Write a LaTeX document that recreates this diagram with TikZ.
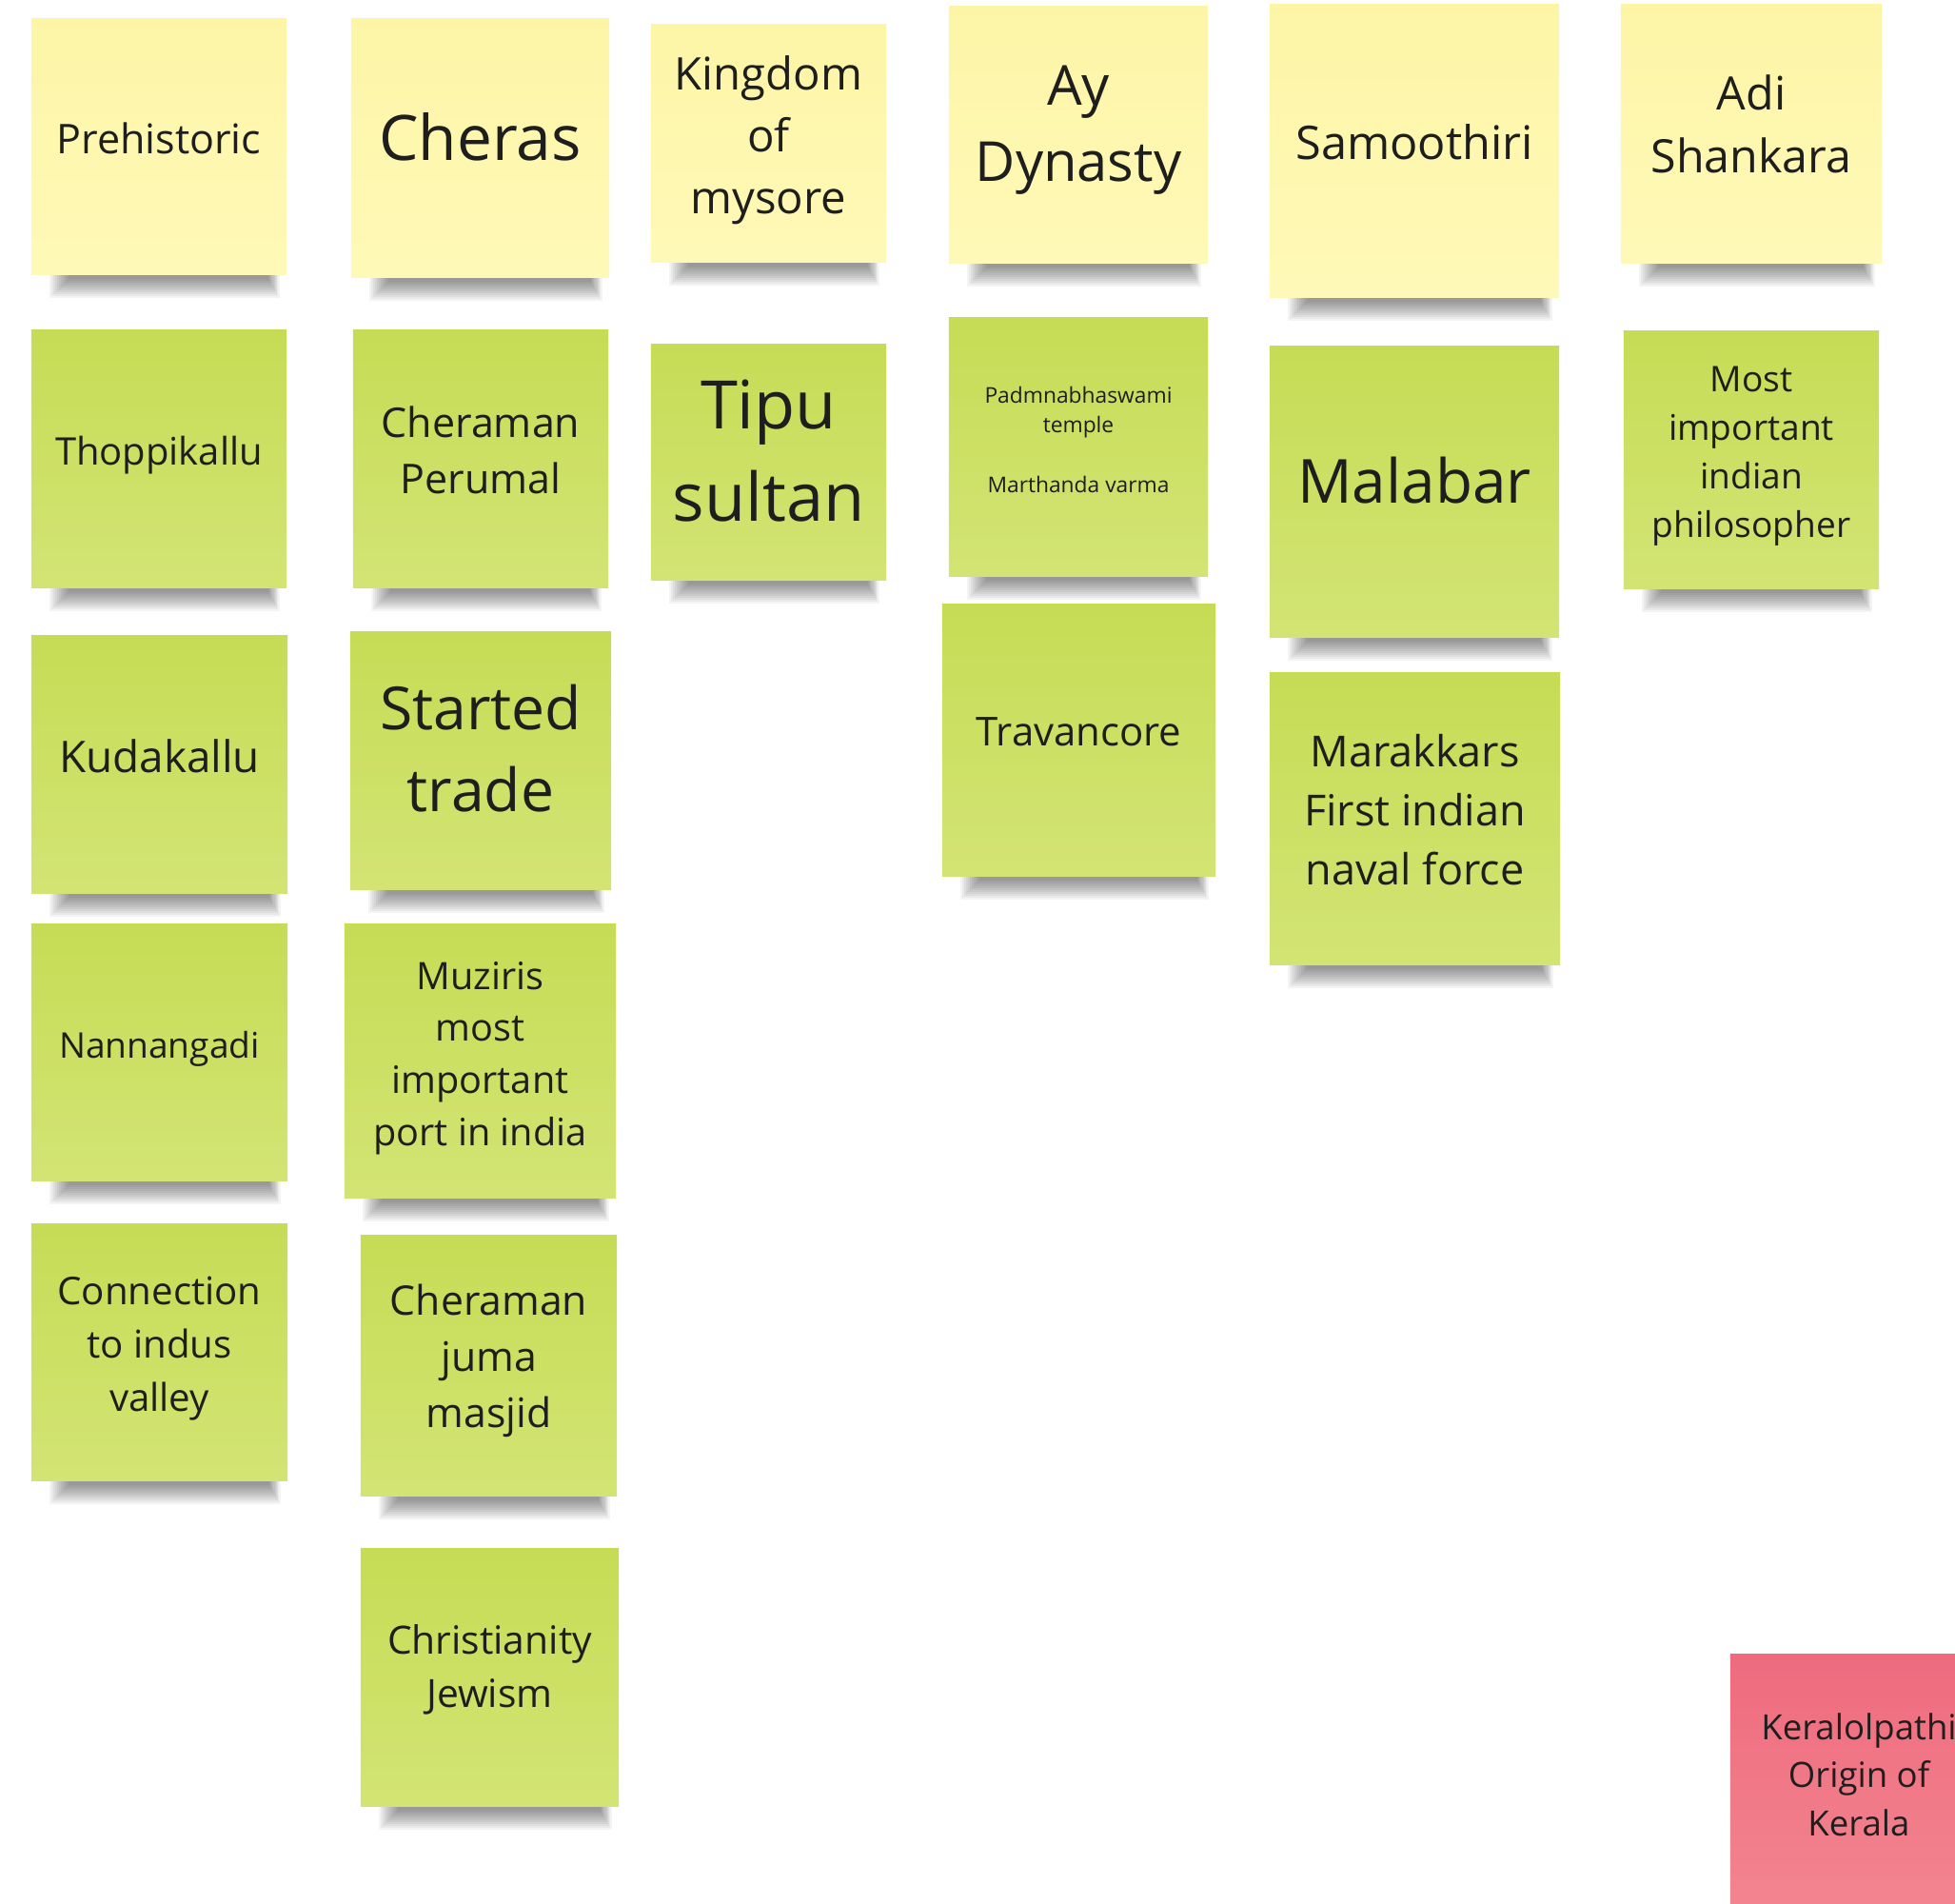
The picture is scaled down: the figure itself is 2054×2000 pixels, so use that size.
\documentclass[tikz,border=0pt]{standalone}
\usepackage{fontspec}
\setmainfont{Open Sans}
\usetikzlibrary{calc}
\usetikzlibrary{backgrounds}

\definecolor{yellowtop}{HTML}{FDF5A6}
\definecolor{yellowbot}{HTML}{FFF9B8}
\definecolor{greentop}{HTML}{C6DC55}
\definecolor{greenbot}{HTML}{D3E474}
\definecolor{pinktop}{HTML}{EE6B7E}
\definecolor{pinkbot}{HTML}{F38590}
\definecolor{stickyink}{HTML}{1E1E1E}
\newcommand{\stickyfont}[1]{\fontsize{#1pt}{#1pt}\selectfont\baselineskip=1.38\baselineskip}

\tikzset{
  sticky/.style={rectangle,inner sep=0pt},
  yellowsticky/.style={sticky,top color=yellowtop,bottom color=yellowbot},
  greensticky/.style={sticky,top color=greentop,bottom color=greenbot},
  pinksticky/.style={sticky,top color=pinktop,bottom color=pinkbot},
  notesize/.style 2 args={minimum width=#1*0.35566pt,minimum height=#2*0.35566pt},
  stickytext/.style={align=center,text=stickyink,yshift=3.2pt,font=\stickyfont{#1}}
}

\begin{document}
\begin{tikzpicture}[x=0.0125cm,y=-0.0125cm]
\useasboundingbox (0,0) rectangle (2054,2000);
\clip (0,0) rectangle (2054,2000);
%first row
\path (167,154) node(pre)[yellowsticky,notesize={268}{268},label={[stickytext=15.3]center:Prehistoric}]{}
(504.5,155.5) node(cheras)[yellowsticky,notesize={271}{271},label={[stickytext=23.4,yshift=1pt]center:Cheras}]{}
(807.5,150.5) node(mysore)[yellowsticky,notesize={247}{249},label={[stickytext=16.8,yshift=-2.1pt]center:Kingdom\\ of\\ mysore}]{}
(1133,141.5) node(ay)[yellowsticky,notesize={272}{269},label={[stickytext=20.6,yshift=-1.4pt]center:Ay\\ Dynasty}]{}
(1486,158.5) node(samoothiri)[yellowsticky,notesize={304}{307},label={[stickytext=17.3]center:Samoothiri}]{}
(1840,140.5) node(adi)[yellowsticky,notesize={274}{271},label={[stickytext=17.2,yshift=0.4pt]center:Adi\\ Shankara}]{};
%green notes
\path (167,482) node(thoppi)[greensticky,notesize={268}{270},label={[stickytext=14.2,yshift=-1.8pt]center:Thoppikallu}]{}
(505,482) node(perumal)[greensticky,notesize={268}{270},label={[stickytext=15.3]center:Cheraman\\ Perumal}]{}
(807.5,485.5) node(tipu)[greensticky,notesize={247}{247},label={[stickytext=25,yshift=0.9pt]center:Tipu\\ sultan}]{}
(1133,469.5) node(padma)[greensticky,notesize={272}{271},label={[stickytext=8.1,yshift=-0.4pt]center:Padmnabhaswami\\ temple\\ \mbox{}\\ Marthanda varma}]{}
(1486,516.5) node(malabar)[greensticky,notesize={304}{305},label={[stickytext=22.7,yshift=0.9pt]center:Malabar}]{}
(1840,483) node(philo)[greensticky,notesize={268}{270},label={[stickytext=13.2,yshift=-1.8pt]center:Most\\ important\\ indian\\ philosopher}]{}
(167.5,803) node(kuda)[greensticky,notesize={269}{270},label={[stickytext=16.3]center:Kudakallu}]{}
(505,799) node(trade)[greensticky,notesize={274}{270},label={[stickytext=22.2,yshift=1.4pt]center:Started\\ trade}]{}
(1133.5,777.5) node(travan)[greensticky,notesize={287}{285},label={[stickytext=14.9]center:Travancore}]{}
(1486.5,860) node(marak)[greensticky,notesize={305}{306},label={[stickytext=16]center:Marakkars\\ First indian\\ naval force}]{}
(167.5,1105.5) node(nann)[greensticky,notesize={269}{269},label={[stickytext=13.2,yshift=-1.8pt]center:Nannangadi}]{}
(504.5,1114.5) node(muziris)[greensticky,notesize={285}{287},label={[stickytext=14.1,yshift=-2.1pt]center:Muziris\\ most\\ important\\ port in india}]{}
(167.5,1420.5) node(conn)[greensticky,notesize={269}{269},label={[stickytext=14.3,yshift=-1.8pt]center:Connection\\ to indus\\ valley}]{}
(513.5,1434.5) node(masjid)[greensticky,notesize={269}{273},label={[stickytext=15.2,yshift=-1.4pt]center:Cheraman\\ juma\\ masjid}]{}
(514.5,1762) node(christ)[greensticky,notesize={271}{270},label={[stickytext=14.5,yshift=-0.4pt]center:Christianity\\ Jewism}]{};
\path (1953,1873) node(kerala)[pinksticky,notesize={270}{270},label={[stickytext=13]center:Keralolpathi\\ Origin of\\ Kerala}]{};
%paper and shadows
\begin{pgfonlayer}{background}
\fill[white] (0,0) rectangle (2054,2000);
\foreach \n in {pre,cheras,mysore,ay,samoothiri,adi,thoppi,perumal,tipu,padma,malabar,philo,kuda,trade,travan,marak,nann,muziris,conn,masjid,christ}
  \foreach \k in {0,2,...,20}
    \fill[black,opacity=0.045] ($(\n.south west)+(20+\k,-3)$) rectangle ($(\n.south east)+(-8-0.6*\k,24-\k)$);
\end{pgfonlayer}
\end{tikzpicture}
\end{document}
